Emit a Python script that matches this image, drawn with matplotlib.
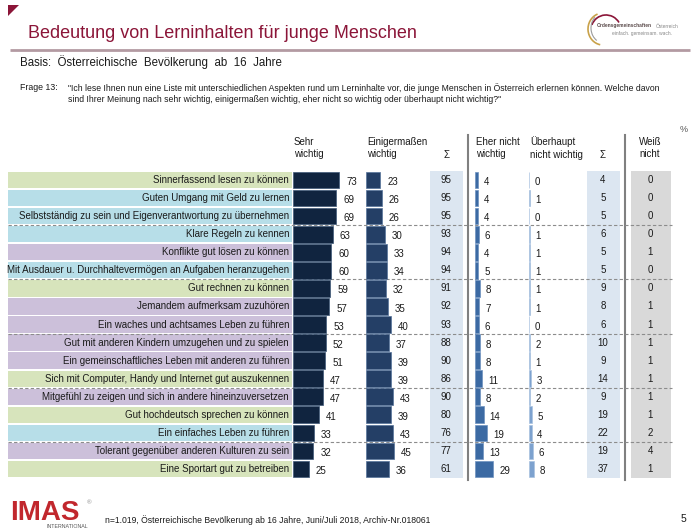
import matplotlib
matplotlib.use('Agg')
import matplotlib.pyplot as plt
from matplotlib.patches import Rectangle, Polygon, Arc
import numpy as np

plt.rcParams['font.family'] = ['Liberation Sans', 'DejaVu Sans']

# ---------------- data ----------------
labels = [
    "Sinnerfassend lesen zu können",
    "Guten Umgang mit Geld zu lernen",
    "Selbstständig zu sein und Eigenverantwortung zu übernehmen",
    "Klare Regeln zu kennen",
    "Konflikte gut lösen zu können",
    "Mit Ausdauer u. Durchhaltevermögen an Aufgaben heranzugehen",
    "Gut rechnen zu können",
    "Jemandem aufmerksam zuzuhören",
    "Ein waches und achtsames Leben zu führen",
    "Gut mit anderen Kindern umzugehen und zu spielen",
    "Ein gemeinschaftliches Leben mit anderen zu führen",
    "Sich mit Computer, Handy und Internet gut auszukennen",
    "Mitgefühl zu zeigen und sich in andere hineinzuversetzen",
    "Gut hochdeutsch sprechen zu können",
    "Ein einfaches Leben zu führen",
    "Tolerant gegenüber anderen Kulturen zu sein",
    "Eine Sportart gut zu betreiben",
]
gruppe = ["A", "B", "B", "B", "C", "B", "A", "C", "C", "C", "C", "A", "C", "A", "B", "C", "A"]
sehr_wichtig = [73, 69, 69, 63, 60, 60, 59, 57, 53, 52, 51, 47, 47, 41, 33, 32, 25]
einigermassen = [23, 26, 26, 30, 33, 34, 32, 35, 40, 37, 39, 39, 43, 39, 43, 45, 36]
summe_wichtig = [95, 95, 95, 93, 94, 94, 91, 92, 93, 88, 90, 86, 90, 80, 76, 77, 61]
eher_nicht = [4, 4, 4, 6, 4, 5, 8, 7, 6, 8, 8, 11, 8, 14, 19, 13, 29]
ueberhaupt_nicht = [0, 1, 0, 1, 1, 1, 1, 1, 0, 2, 1, 3, 2, 5, 4, 6, 8]
summe_nicht = [4, 5, 5, 6, 5, 5, 9, 8, 6, 10, 9, 14, 9, 19, 22, 19, 37]
weiss_nicht = [0, 0, 0, 0, 1, 0, 0, 1, 1, 1, 1, 1, 1, 1, 2, 4, 1]

# ---------------- styling ----------------
W, H = 700, 532
band_colors = {"A": "#D7E4BC", "B": "#B7DEE8", "C": "#CCC0DA"}
C_SEHR = "#10243F"
C_EINIG = "#243F66"
C_EHER = "#3C6AA3"
C_UEBER = "#7DA2CF"
C_SUM = "#DCE6F1"
C_WEISS = "#D9D9D9"
MAROON = "#8B1538"
TXT = "#1A1A1A"

n = len(labels)
ROW_TOP, ROW_BOT = 171, 478
rows = np.arange(n)

fig = plt.figure(figsize=(W / 100, H / 100), dpi=100)

# background axes in pixel coordinates
bg = fig.add_axes([0, 0, 1, 1])
bg.set_xlim(0, W)
bg.set_ylim(H, 0)
bg.axis('off')

# corner triangle
bg.add_patch(Polygon([[8, 5], [19, 5], [8, 16]], closed=True, color=MAROON, lw=0))
# title
bg.text(28, 33, "Bedeutung von Lerninhalten für junge Menschen", fontsize=13,
        color=MAROON, va='center', ha='left')
bg.plot([10, 690], [50, 50], color="#B39AA2", lw=2, solid_capstyle='butt')

# logo top right
bg.add_patch(Arc((603, 29), 30, 32, theta1=100, theta2=250, color="#C9A24A", lw=1.2))
bg.add_patch(Arc((606, 30), 30, 30, theta1=200, theta2=330, color=MAROON, lw=1.2))
bg.add_patch(Arc((604, 28), 26, 30, theta1=120, theta2=230, color="#9A9A9A", lw=0.8))
bg.text(597, 26, "Ordensgemeinschaften", fontsize=3.5, color="#5a4a4a", va='center', ha='left',
        fontweight='bold')
bg.text(656, 26, "Österreich", fontsize=3.5, color="#888888", va='center', ha='left')
bg.text(612, 34, "einfach. gemeinsam. wach.", fontsize=3.5, color="#888888", va='center', ha='left')

# basis / question
bg.text(20, 62, "Basis:  Österreichische  Bevölkerung  ab  16  Jahre", fontsize=8.3,
        color=TXT, va='center', ha='left')
bg.text(20, 88, "Frage 13:", fontsize=6.3, color=TXT, va='center', ha='left')
bg.text(68, 88, "\"Ich lese Ihnen nun eine Liste mit unterschiedlichen Aspekten rund um Lerninhalte vor, "
        "die junge Menschen in Österreich erlernen können. Welche davon", fontsize=6.2,
        color=TXT, va='center', ha='left')
bg.text(68, 99, "sind Ihrer Meinung nach sehr wichtig, einigermaßen wichtig, eher nicht so wichtig "
        "oder überhaupt nicht wichtig?\"", fontsize=6.2, color=TXT, va='center', ha='left')

# column headers
hfs = 7
bg.text(294, 148, "Sehr\nwichtig", fontsize=hfs, color=TXT, va='center', ha='left', linespacing=1.35)
bg.text(367, 148, "Einigermaßen\nwichtig", fontsize=hfs, color=TXT, va='center', ha='left', linespacing=1.35)
bg.text(447, 155, "Σ", fontsize=hfs, color=TXT, va='center', ha='center')
bg.text(476, 148, "Eher nicht\nwichtig", fontsize=hfs, color=TXT, va='center', ha='left', linespacing=1.35)
bg.text(530, 148, "Überhaupt\nnicht wichtig", fontsize=hfs, color=TXT, va='center', ha='left', linespacing=1.35)
bg.text(603, 155, "Σ", fontsize=hfs, color=TXT, va='center', ha='center')
bg.text(650, 148, "Weiß\nnicht", fontsize=hfs, color=TXT, va='center', ha='center', linespacing=1.35)
bg.text(684, 130, "%", fontsize=6.5, color="#555555", va='center', ha='center')

# footer
bg.text(105, 520, "n=1.019, Österreichische Bevölkerung ab 16 Jahre, Juni/Juli 2018, Archiv-Nr.018061",
        fontsize=6.2, color=TXT, va='center', ha='left')
bg.text(683, 519, "5", fontsize=7.5, color=TXT, va='center', ha='center')
# IMAS logo
bg.text(10, 513, "IMAS", fontsize=20, fontweight='bold', color="#C1272D", va='center', ha='left')
bg.text(87, 503, "®", fontsize=4.5, color="#888888", va='center', ha='left')
bg.text(88, 527, "INTERNATIONAL", fontsize=3.8, color="#555555", va='center', ha='right')

# table axes: x in pixels, y in row index
frac_b = (H - ROW_BOT) / H
frac_h = (ROW_BOT - ROW_TOP) / H
tab = fig.add_axes([0, frac_b, 1, frac_h])
tab.set_xlim(0, W)
tab.set_ylim(n - 0.5, -0.5)
tab.axis('off')
tab.patch.set_alpha(0)

# label bands
tab.barh(rows, 284, left=8, height=0.9, color=[band_colors[g] for g in gruppe], lw=0, zorder=1)
for i, lab in enumerate(labels):
    tab.text(289, i, lab, fontsize=7, color=TXT, ha='right', va='center', zorder=3)

# summary backgrounds
tab.add_patch(Rectangle((430, -0.5), 33, n, color=C_SUM, lw=0, zorder=0))
tab.add_patch(Rectangle((587, -0.5), 33, n, color=C_SUM, lw=0, zorder=0))
tab.add_patch(Rectangle((631, -0.5), 40, n, color=C_WEISS, lw=0, zorder=0))
for i in range(n):
    tab.text(446, i, str(summe_wichtig[i]), fontsize=7, color=TXT, ha='center', va='center')
    tab.text(603, i, str(summe_nicht[i]), fontsize=7, color=TXT, ha='center', va='center')
    tab.text(650, i, str(weiss_nicht[i]), fontsize=7, color=TXT, ha='center', va='center')

# dashed separators
for k in [3, 6, 9, 12, 15]:
    tab.plot([8, 672], [k - 0.5, k - 0.5], ls=(0, (3, 2)), color="#8C8C8C", lw=0.8, zorder=4)

# vertical separators
for xv in [468, 625]:
    bg.plot([xv, xv], [135, 480], color="#808080", lw=1.5, zorder=5)


def bar_axes(x0, scale=0.63):
    ax = fig.add_axes([x0 / W, frac_b, 100 * scale / W, frac_h])
    ax.set_xlim(0, 100)
    ax.set_ylim(n - 0.5, -0.5)
    ax.axis('off')
    ax.patch.set_alpha(0)
    return ax


specs = [
    (293, sehr_wichtig, C_SEHR, "#3E5878", 5.2),
    (366, einigermassen, C_EINIG, "#56739A", 4.8),
    (475, eher_nicht, C_EHER, "#6E92C0", 4.3),
    (529, ueberhaupt_nicht, C_UEBER, "#A9C2E0", 4.0),
]
for x0, vals, col, edge, off in specs:
    ax = bar_axes(x0)
    ax.barh(rows, vals, height=0.92, color=col, edgecolor=edge, lw=0.5)
    for i, v in enumerate(vals):
        ax.annotate(str(v), (v, i), xytext=(off, -1.5), textcoords='offset points',
                    fontsize=7, color=TXT, ha='left', va='center', annotation_clip=False)

fig.savefig("out.png", dpi=100)
